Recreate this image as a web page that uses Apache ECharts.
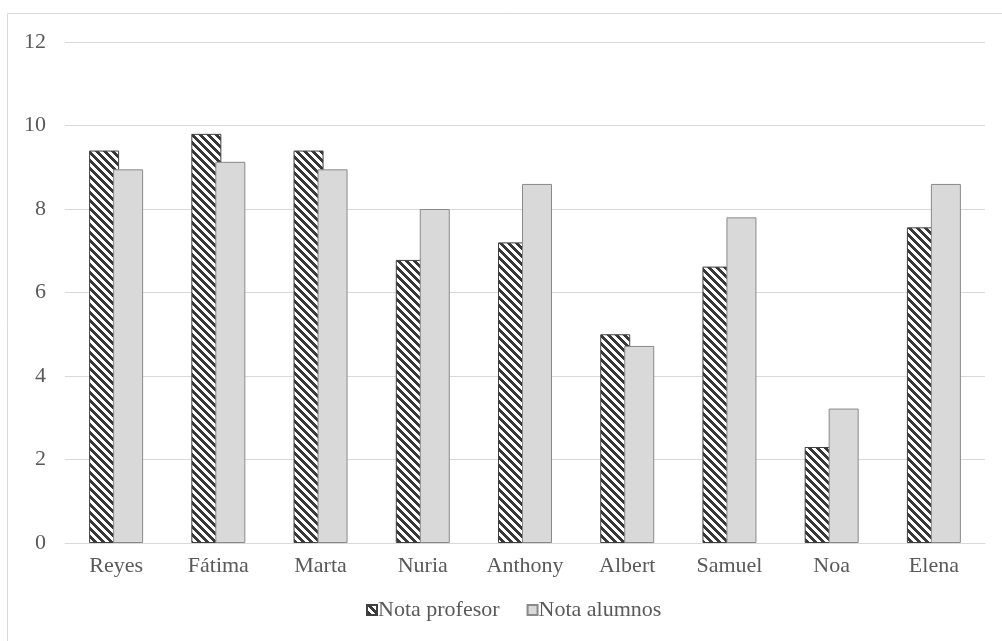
<!DOCTYPE html>
<html>
<head>
<meta charset="utf-8">
<script src="https://cdn.jsdelivr.net/npm/echarts@6/dist/echarts.min.js"></script>
<style>
  html, body { margin: 0; padding: 0; background: #fff; }
  #chart { width: 1002px; height: 641px; }
</style>
</head>
<body>
<div id="chart"></div>
<script>
// Alumnos y notas
const categories = ['Reyes', 'Fátima', 'Marta', 'Nuria', 'Anthony', 'Albert', 'Samuel', 'Noa', 'Elena'];
const notaProfesor = [9.4, 9.8, 9.4, 6.78, 7.2, 5.0, 6.62, 2.3, 7.56];
const notaAlumnos = [8.95, 9.13, 8.95, 8.0, 8.6, 4.72, 7.8, 3.22, 8.6];
const yTicks = [0, 2, 4, 6, 8, 10, 12];

// Trama diagonal (\) en blanco y negro para la nota del profesor
function stripeTile() {
  const s = 8, w = 4;
  const c = document.createElement('canvas');
  c.width = s; c.height = s;
  const ctx = c.getContext('2d');
  const img = ctx.createImageData(s, s);
  for (let y = 0; y < s; y++) {
    for (let x = 0; x < s; x++) {
      const dark = ((x - y) % s + s) % s < w;
      const v = dark ? 0x38 : 0xff;
      const i = (y * s + x) * 4;
      img.data[i] = v; img.data[i + 1] = v; img.data[i + 2] = v; img.data[i + 3] = 255;
    }
  }
  ctx.putImageData(img, 0, 0);
  return c;
}

const FONT = '"Palatino Linotype", "Book Antiqua", Palatino, "Liberation Serif", serif';
const TEXT = '#595959';
const GRID = '#d9d9d9';
const FS = 22;

const chart = echarts.init(document.getElementById('chart'), null, { renderer: 'canvas' });
chart.setOption({
  animation: false,
  backgroundColor: '#ffffff',
  textStyle: { fontFamily: FONT, color: TEXT },
  graphic: [{
    type: 'rect',
    silent: true,
    shape: { x: 7.5, y: 13.5, width: 1100, height: 700 },
    style: { fill: 'none', stroke: GRID, lineWidth: 1 }
  }],
  grid: { left: 65, right: 17, top: 42, bottom: 98, containLabel: false },
  legend: {
    top: 594,
    left: 361,
    icon: 'rect',
    itemWidth: 10,
    itemHeight: 10,
    itemGap: 27,
    textStyle: { fontFamily: FONT, fontSize: FS, color: TEXT, padding: [0, 0, 0, -4] },
    data: ['Nota profesor', 'Nota alumnos']
  },
  xAxis: {
    type: 'category',
    data: categories,
    axisLine: { lineStyle: { color: GRID, width: 1 } },
    axisTick: { show: false },
    axisLabel: { fontFamily: FONT, fontSize: FS, color: TEXT, margin: 12 }
  },
  yAxis: {
    type: 'value',
    min: yTicks[0],
    max: yTicks[yTicks.length - 1],
    interval: 2,
    axisLine: { show: false },
    axisTick: { show: false },
    splitLine: { lineStyle: { color: GRID, width: 1 } },
    axisLabel: { fontFamily: FONT, fontSize: FS, color: TEXT, margin: 19 }
  },
  series: [
    {
      name: 'Nota profesor',
      type: 'bar',
      data: notaProfesor,
      barWidth: 30,
      barGap: '-20%',
      itemStyle: {
        color: { image: stripeTile(), repeat: 'repeat' },
        borderColor: '#404040',
        borderWidth: 1
      }
    },
    {
      name: 'Nota alumnos',
      type: 'bar',
      data: notaAlumnos,
      barWidth: 30,
      itemStyle: {
        color: '#d9d9d9',
        borderColor: '#898989',
        borderWidth: 1
      }
    }
  ]
});
</script>
</body>
</html>
